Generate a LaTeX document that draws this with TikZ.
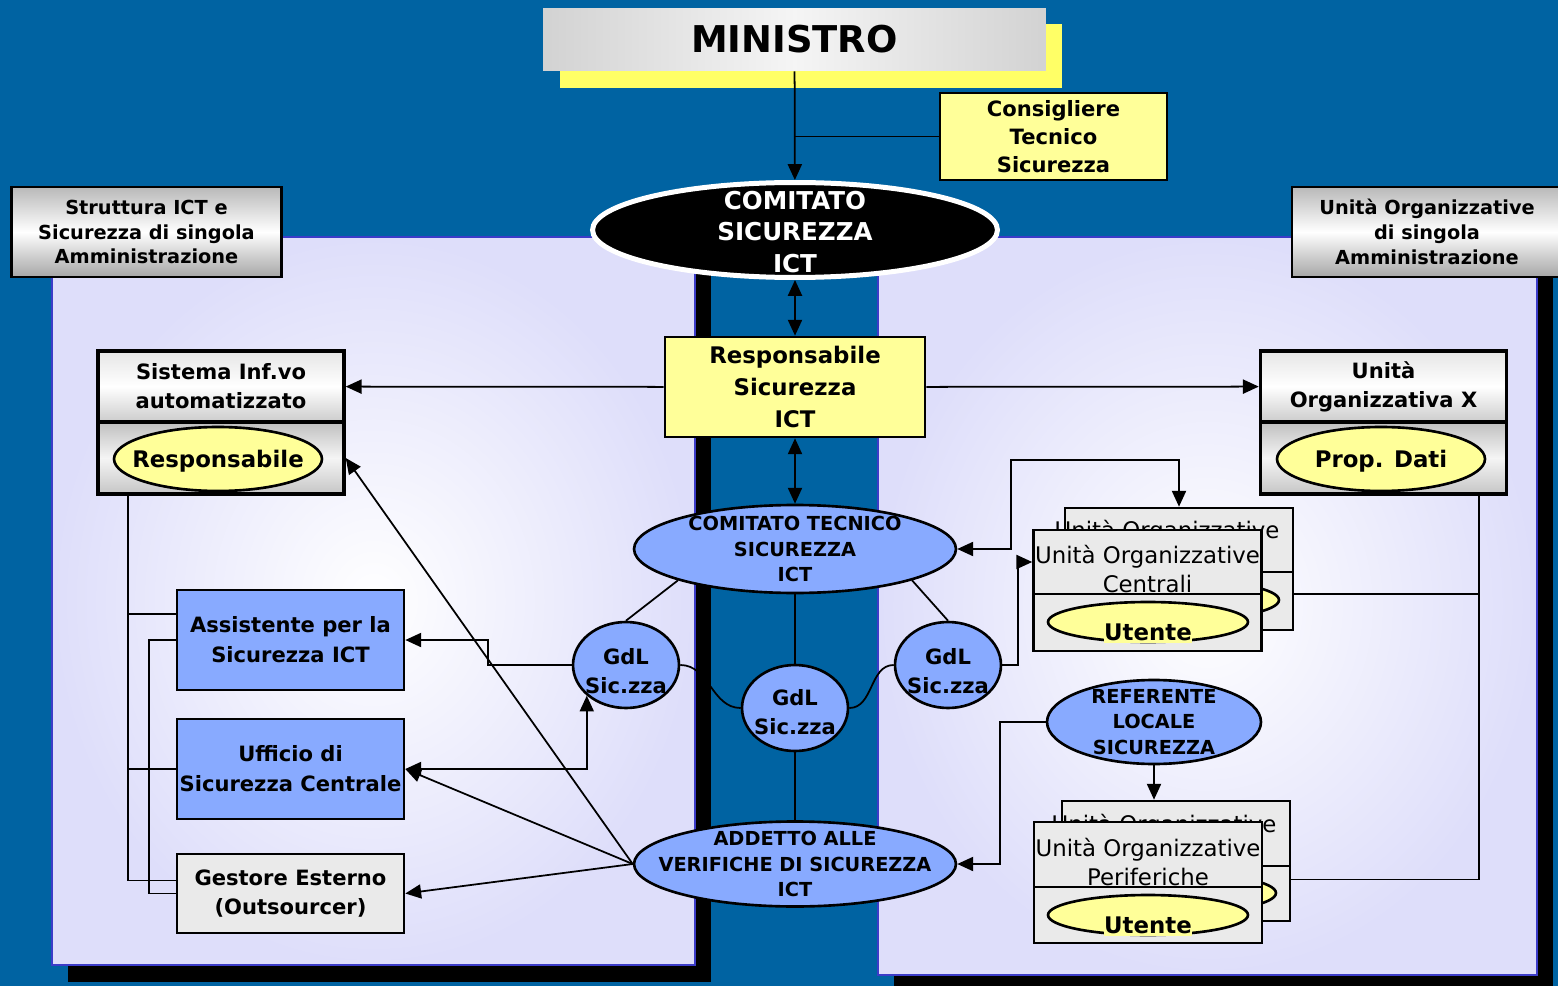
\documentclass[tikz,border=0pt]{standalone}
\usepackage{fontspec}
\setmainfont{DejaVu Sans}
\usepackage{tikz}
\usetikzlibrary{shapes, arrows.meta, calc}
\definecolor{bgblue}{RGB}{0,99,162}
\definecolor{panel}{RGB}{222,222,250}
\definecolor{panelline}{RGB}{60,60,200}
\definecolor{lblue}{RGB}{136,170,255}
\definecolor{lyellow}{RGB}{255,255,153}
\definecolor{myellow}{RGB}{255,255,102}
\definecolor{lgray}{RGB}{234,234,234}
\tikzstyle{minbox} = [rectangle, left color=gray!35, right color=gray!35, middle color=gray!8, minimum width=10.06cm, minimum height=1.26cm, inner sep=0pt, font=\bfseries\fontsize{21}{24}\selectfont]
\tikzstyle{hdr} = [rectangle, draw, line width=1.5pt, top color=gray!55, bottom color=gray!70, middle color=white, minimum width=5.4cm, minimum height=1.8cm, inner sep=0pt, align=center, font=\bfseries\fontsize{11}{14}\selectfont]
\tikzstyle{ybox} = [rectangle, draw, line width=1.5pt, fill=lyellow, inner sep=0pt, align=center]
\tikzstyle{bbox} = [rectangle, draw, line width=1.5pt, fill=lblue, minimum width=4.54cm, minimum height=2cm, inner sep=0pt, align=center, font=\bfseries\fontsize{12}{17}\selectfont]
\tikzstyle{gbox} = [rectangle, draw, line width=1.5pt, fill=lgray, minimum width=4.56cm, inner sep=0pt]
\tikzstyle{sbox} = [rectangle, draw, line width=2pt, top color=gray!20, bottom color=gray!40, middle color=white, minimum width=4.92cm, minimum height=1.42cm, inner sep=0pt, align=center, font=\bfseries\fontsize{12}{16.5}\selectfont]
\tikzstyle{sboxb} = [rectangle, draw, line width=2pt, top color=gray!50, bottom color=gray!45, middle color=gray!8, minimum width=4.92cm, minimum height=1.44cm, inner sep=0pt]
\tikzstyle{blackell} = [ellipse, draw=white, line width=1mm, fill=black, minimum width=8.1cm, minimum height=1.9cm, inner sep=0pt]
\tikzstyle{bell} = [ellipse, draw, line width=1.5pt, fill=lblue, inner sep=0pt]
\tikzstyle{yell} = [ellipse, draw, line width=1.5pt, fill=lyellow, minimum width=4.16cm, minimum height=1.28cm, inner sep=0pt]
\tikzstyle{txt} = [inner sep=0pt, align=center]
\tikzstyle{line} = [draw, line width=1pt, -{Triangle[length=9pt, width=8pt]}]
\tikzstyle{dline} = [draw, line width=1pt, {Triangle[length=9pt, width=8pt]}-{Triangle[length=9pt, width=8pt]}]
\tikzstyle{link} = [draw, line width=1pt]

\begin{document}
\begin{tikzpicture}[x=0.02cm, y=-0.02cm]
    \useasboundingbox (0,0) rectangle (1558,986);
    \clip (0,0) rectangle (1558,986);
    \fill[bgblue] (0,0) rectangle (1558,986);

    \fill[black] (68,253) rectangle (711,982);
    \draw[panelline, line width=1.5pt, inner color=white, outer color=panel] (52,237) rectangle (695,965);
    \fill[black] (894,253) rectangle (1553,995);
    \draw[panelline, line width=1.5pt, inner color=white, outer color=panel] (878,237) rectangle (1537,975);

    \fill[myellow] (560,24) rectangle (1062,88);
    \node[minbox] (min) at (794.5,39.5) {MINISTRO};
    \node[ybox, minimum width=4.54cm, minimum height=1.74cm, font=\bfseries\fontsize{12}{16}\selectfont] (cons) at (1053.5,136.5) {Consigliere\\Tecnico\\Sicurezza};
    \node[hdr] (hdrL) at (146.5,232) {Struttura ICT e\\Sicurezza di singola\\Amministrazione};
    \node[hdr] (hdrR) at (1427,232) {Unità Organizzative\\di singola\\Amministrazione};

    \node[blackell] (cs) at (795,230) {};
    \node[txt, text=white, font=\bfseries\fontsize{14}{18}\selectfont] (csT) at ([yshift=-0.04cm]cs) {COMITATO\\SICUREZZA\\ICT};
    \node[ybox, minimum width=5.2cm, minimum height=2cm, font=\bfseries\fontsize{13}{18}\selectfont] (resp) at (795,387) {Responsabile\\Sicurezza\\ICT};

    \node[sbox] (sisT) at (221,386.5) {Sistema Inf.vo\\automatizzato};
    \node[sboxb] (sisB) at (221,458) {};
    \node[yell] (sisE) at (218,459) {};
    \node[txt, font=\bfseries\fontsize{13}{16}\selectfont] (sisR) at ([yshift=-0.04cm]sisE) {Responsabile};

    \node[sbox] (uxT) at (1383.5,386.5) {Unità\\Organizzativa X};
    \node[sboxb] (uxB) at (1383.5,458) {};
    \node[yell] (uxE) at (1381,459) {};
    \node[txt, font=\bfseries\fontsize{13}{16}\selectfont] (uxP) at ([yshift=-0.04cm]uxE) {Prop. Dati};

    \node[bell, minimum width=6.44cm, minimum height=1.76cm] (ctec) at (795,549) {};
    \node[txt, font=\bfseries\fontsize{11}{14.5}\selectfont] (ctecT) at (ctec) {COMITATO TECNICO\\SICUREZZA\\ICT};
    \node[bell, minimum width=2.12cm, minimum height=1.72cm] (gdl1) at (626,665) {};
    \node[bell, minimum width=2.12cm, minimum height=1.72cm] (gdl2) at (795,708) {};
    \node[bell, minimum width=2.12cm, minimum height=1.72cm] (gdl3) at (948,665) {};
    \node[txt, font=\bfseries\fontsize{12}{16.5}\selectfont] (gdl1T) at ([yshift=-0.12cm]gdl1) {GdL\\Sic.zza};
    \node[txt, font=\bfseries\fontsize{12}{16.5}\selectfont] (gdl2T) at ([yshift=-0.08cm]gdl2) {GdL\\Sic.zza};
    \node[txt, font=\bfseries\fontsize{12}{16.5}\selectfont] (gdl3T) at ([yshift=-0.12cm]gdl3) {GdL\\Sic.zza};
    \node[bell, minimum width=6.44cm, minimum height=1.7cm] (add) at (795,864) {};
    \node[txt, font=\bfseries\fontsize{11}{14.5}\selectfont] (addT) at (add) {ADDETTO ALLE\\VERIFICHE DI SICUREZZA\\ICT};
    \node[bell, minimum width=4.28cm, minimum height=1.68cm] (ref) at (1154,722) {};
    \node[txt, font=\bfseries\fontsize{11}{14.5}\selectfont] (refT) at (ref) {REFERENTE\\LOCALE\\SICUREZZA};

    \node[bbox] (assist) at (290.5,640) {Assistente per la\\Sicurezza ICT};
    \node[bbox] (uff) at (290.5,769) {Ufficio di\\Sicurezza Centrale};
    \node[bbox, fill=lgray, minimum height=1.58cm] (gest) at (290.5,893.5) {Gestore Esterno\\(Outsourcer)};

    \node[gbox, minimum height=1.28cm] (ucBt) at (1179,540) {};
    \node[gbox, minimum height=1.16cm] (ucBb) at (1179,601) {};
    \node[yell, minimum width=4cm, minimum height=0.8cm] (ucBe) at (1179,600) {};
    \node[txt, font=\fontsize{13}{17}\selectfont] (ucBtx) at ([xshift=-0.24cm, yshift=0.16cm]ucBt) {Unità Organizzative};
    \node[gbox, minimum height=1.28cm] (ucFt) at (1147.5,562) {};
    \node[gbox, minimum height=1.14cm] (ucFb) at (1147.5,622.5) {};
    \node[yell, minimum width=4cm, minimum height=0.8cm] (ucFe) at (1148,622) {};
    \node[txt, font=\fontsize{13}{17}\selectfont] (ucFtx) at ([yshift=-0.14cm]ucFt) {Unità Organizzative\\Centrali};
    \node[txt, fill=lyellow, inner ysep=1.5pt, font=\bfseries\fontsize{13}{16}\selectfont] (ucU) at ([yshift=-0.2cm]ucFe) {Utente};

    \node[gbox, minimum height=1.3cm] (pBt) at (1176,833.5) {};
    \node[gbox, minimum height=1.1cm] (pBb) at (1176,893.5) {};
    \node[yell, minimum width=4cm, minimum height=0.8cm] (pBe) at (1176,893) {};
    \node[txt, font=\fontsize{13}{17}\selectfont] (pBtx) at ([xshift=-0.24cm, yshift=0.16cm]pBt) {Unità Organizzative};
    \node[gbox, minimum height=1.3cm] (pFt) at (1148,854.5) {};
    \node[gbox, minimum height=1.12cm] (pFb) at (1148,915) {};
    \node[yell, minimum width=4cm, minimum height=0.8cm] (pFe) at (1148,915) {};
    \node[txt, font=\fontsize{13}{17}\selectfont] (pFtx) at ([yshift=-0.15cm]pFt) {Unità Organizzative\\Periferiche};
    \node[txt, fill=lyellow, inner ysep=1.5pt, font=\bfseries\fontsize{13}{16}\selectfont] (pU) at ([yshift=-0.2cm]pFe) {Utente};

    \path[line] (min) -- (cs);
    \path[link] (cons.west) -- (cons.west -| min.south);
    \path[dline] (cs) -- (resp);
    \path[line] (resp) -- (sisT);
    \path[line] (resp) -- (uxT);
    \path[dline] (resp) -- (ctec);

    \path[link] (ctec.195) -- (gdl1.north);
    \path[link] (ctec.-15) -- (gdl3.north);
    \path[link] (ctec) -- (gdl2);
    \path[link] (gdl2) -- (add);
    \path[link] (gdl1.east) to[out=0, in=180] (gdl2.west);
    \path[link] (gdl2.east) to[out=0, in=180] (gdl3.west);

    \path[line] (gdl1.west) -- ++(-84,0) |- (assist.east);
    \path[dline] (uff.east) -| (gdl1.218);
    \path[line] (add.west) -- (sisB.east);
    \path[line] (add.west) -- (uff.east);
    \path[line] (add.west) -- (gest.east);

    \path[link] ($(sisB.south west)+(32,0)$) |- ($(gest.west)+(0,-13)$);
    \path[link] ($(assist.west)+(0,-26)$) -- ++(-47,0);
    \path[link] (uff.west) -- ++(-47,0);
    \path[link] (assist.west) -- ++(-27,0) |- (gest.west);

    \path[dline] (ctec.east) -- ++(54,0) |- ($(ucBt.north)+(0,-47)$) -- (ucBt.north);
    \path[line] (gdl3.east) -- ++(16,0) |- (ucFt.west);
    \path[line] (ref.west) -- ++(-46,0) |- (add.east);
    \path[line] (ref.south) -- (ref.south |- pBt.north);
    \path[link] ($(uxB.south east)+(-29,0)$) |- ($(pBb.east)+(0,-14)$);
    \path[link] ($(ucBb.east)+(0,-7)$) -- ++(184,0);
\end{tikzpicture}
\end{document}
